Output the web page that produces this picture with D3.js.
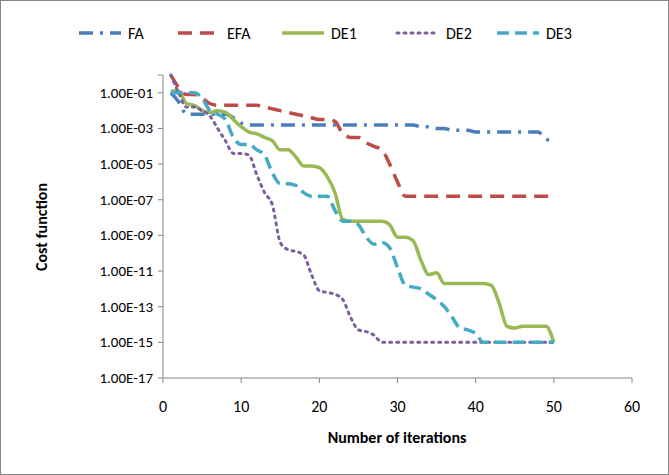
<!DOCTYPE html>
<html>
<head>
<meta charset="utf-8">
<script src="https://cdn.jsdelivr.net/npm/d3@7"></script>
<style>
body { margin: 0; background: white; }
text { font-family: Calibri, Carlito, "Open Sans", "Liberation Sans", Arial, sans-serif; }
</style>
</head>
<body>
<svg id="chart" width="669" height="475"></svg>
<script>
// iterations and log10 of cost function per series
var iterations = d3.range(1, 51);
var seriesNames = ["FA", "EFA", "DE1", "DE2", "DE3"];
var faExp = [-1,-1.5,-2.2,-2.2,-2.2,-2.2,-2.2,-2.2,-2.4,-2.7,-2.8,-2.8,-2.8,-2.8,-2.8,-2.8,-2.8,-2.8,-2.8,-2.8,
  -2.8,-2.8,-2.8,-2.8,-2.8,-2.8,-2.8,-2.8,-2.8,-2.8,-2.8,-2.8,-2.9,-2.9,-3,-3,-3.1,-3.1,-3.1,-3.2,
  -3.2,-3.2,-3.2,-3.2,-3.2,-3.2,-3.2,-3.2,-3.6,-3.7];
var efaExp = [0,-0.7,-1.1,-1.1,-1.3,-1.6,-1.7,-1.7,-1.7,-1.7,-1.7,-1.7,-1.8,-1.9,-2,-2.1,-2.2,-2.3,-2.4,-2.5,
  -2.5,-2.6,-3.3,-3.5,-3.5,-3.8,-4,-4.2,-5,-6,-6.8,-6.8,-6.8,-6.8,-6.8,-6.8,-6.8,-6.8,-6.8,-6.8,
  -6.8,-6.8,-6.8,-6.8,-6.8,-6.8,-6.8,-6.8,-6.8,-6.8];
var de1Exp = [-0.9,-0.9,-1.6,-1.7,-2,-2.1,-2,-2.1,-2.5,-2.9,-3.2,-3.3,-3.5,-3.7,-4.2,-4.2,-4.6,-5.1,-5.1,-5.2,
  -5.7,-6.6,-8.1,-8.2,-8.2,-8.2,-8.2,-8.2,-8.4,-9.1,-9.1,-9.3,-10.4,-11.2,-11.1,-11.7,-11.7,-11.7,-11.7,-11.7,
  -11.7,-11.8,-12.8,-14.1,-14.2,-14.1,-14.1,-14.1,-14.1,-15];
var de2Exp = [0,-1,-1.8,-1.8,-2,-2.3,-3,-3.7,-4.4,-4.4,-4.5,-5.6,-6.6,-7.3,-9.4,-9.8,-9.9,-10.1,-11.2,-12.1,
  -12.2,-12.3,-12.6,-13.6,-14.3,-14.4,-14.6,-15,-15,-15,-15,-15,-15,-15,-15,-15,-15,-15,-15,-15,
  -15,-15,-15,-15,-15,-15,-15,-15,-15,-15];
var de3Exp = [-1,-1,-1,-1,-1.3,-2,-2.2,-2.5,-3.5,-3.9,-3.9,-4.2,-4.5,-5.5,-6.1,-6.1,-6.2,-6.6,-6.8,-6.8,
  -6.8,-7.6,-8.2,-8.2,-8.4,-9.1,-9.5,-9.4,-9.7,-10.8,-11.8,-11.9,-12,-12.3,-12.6,-13,-13.6,-14.2,-14.3,-14.5,
  -15,-15,-15,-15,-15,-15,-15,-15,-15,-15];
var xTicks = [0, 10, 20, 30, 40, 50, 60];
var yTicks = [1e-1, 1e-3, 1e-5, 1e-7, 1e-9, 1e-11, 1e-13, 1e-15, 1e-17];

var colors = ["#4a7ebb", "#be4b48", "#98b954", "#7d5fa0", "#46aac5"];
var dashes = ["14,7,3,7", "14,8", null, "2,5", "12,6"];
var widths = [3.5, 3.5, 3.5, 3, 3.5];
var allExp = [faExp, efaExp, de1Exp, de2Exp, de3Exp];

var svg = d3.select("#chart");
svg.append("rect").attr("x", 0.5).attr("y", 0.5).attr("width", 668).attr("height", 474)
  .attr("fill", "white").attr("stroke", "#868686");

var x = d3.scaleLinear().domain([0, 60]).range([163, 632]);
var y = d3.scaleLog().domain([1e-17, 1]).range([378, 75]);

svg.append("line").attr("x1", 163).attr("x2", 163).attr("y1", 75).attr("y2", 378).attr("stroke", "#868686");
svg.append("line").attr("x1", 163).attr("x2", 632).attr("y1", 378).attr("y2", 378).attr("stroke", "#868686");

yTicks.forEach(function (t) {
  svg.append("line").attr("x1", 158).attr("x2", 163).attr("y1", y(t)).attr("y2", y(t)).attr("stroke", "#868686");
  svg.append("text").attr("x", 153).attr("y", y(t) + 5).attr("text-anchor", "end")
    .attr("font-size", 15).text("1.00E-" + String(Math.round(-Math.log10(t))).padStart(2, "0"));
});
svg.append("line").attr("x1", 158).attr("x2", 163).attr("y1", y(1)).attr("y2", y(1)).attr("stroke", "#868686");
xTicks.forEach(function (t) {
  svg.append("line").attr("x1", x(t)).attr("x2", x(t)).attr("y1", 378).attr("y2", 383).attr("stroke", "#868686");
  svg.append("text").attr("x", x(t)).attr("y", 412).attr("text-anchor", "middle")
    .attr("font-size", 16).text(t);
});

svg.append("text").attr("x", 397).attr("y", 443).attr("text-anchor", "middle")
  .attr("font-size", 16).attr("font-weight", "bold").text("Number of iterations");
svg.append("text").attr("transform", "translate(47,227) rotate(-90)").attr("text-anchor", "middle")
  .attr("font-size", 16).attr("font-weight", "bold").text("Cost function");

var line = d3.line()
  .x(function (d, i) { return x(iterations[i]); })
  .y(function (d) { return y(Math.pow(10, d)); })
  .curve(d3.curveMonotoneX);

allExp.forEach(function (s, k) {
  svg.append("path").datum(s).attr("d", line).attr("fill", "none")
    .attr("stroke", colors[k]).attr("stroke-width", widths[k])
    .attr("stroke-dasharray", dashes[k]).attr("stroke-linecap", k == 3 ? "round" : "butt");
});

// legend
var legX = [79, 178, 282, 397, 497];
seriesNames.forEach(function (n, k) {
  svg.append("line").attr("x1", legX[k]).attr("x2", legX[k] + 42).attr("y1", 33).attr("y2", 33)
    .attr("stroke", colors[k]).attr("stroke-width", widths[k])
    .attr("stroke-dasharray", dashes[k]).attr("stroke-linecap", k == 3 ? "round" : "butt");
  svg.append("text").attr("x", legX[k] + 49).attr("y", 39).attr("font-size", 16).text(n);
});
</script>
</body>
</html>
